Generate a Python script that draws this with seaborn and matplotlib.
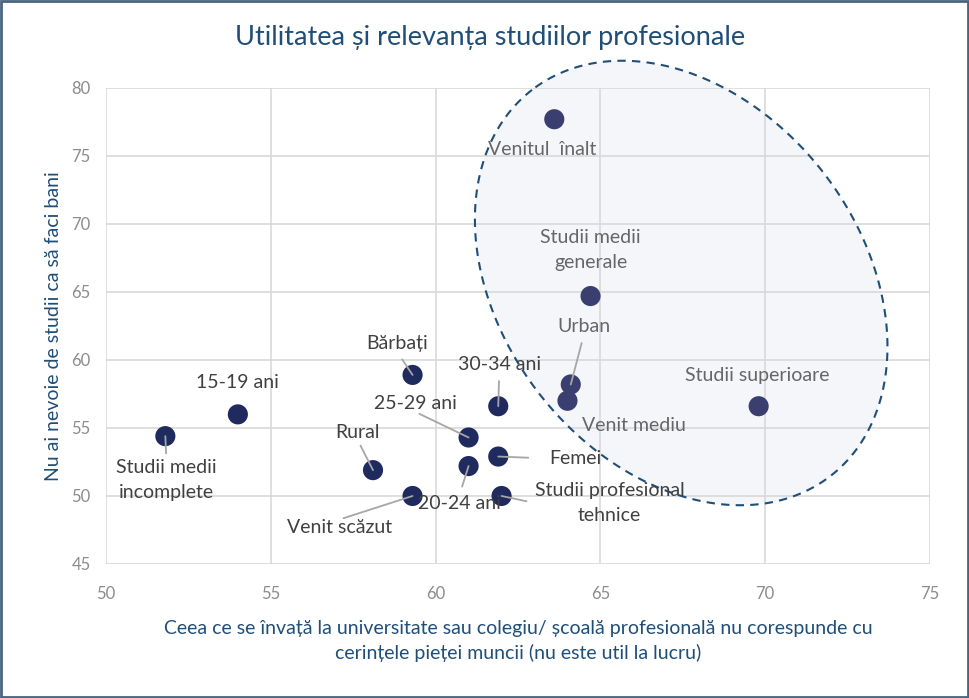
import numpy as np
import pandas as pd
import matplotlib
matplotlib.use("Agg")
import matplotlib.pyplot as plt
import seaborn as sns
from matplotlib.patches import Polygon, Rectangle

# data
labels = ["Studii medii\nincomplete", "15-19 ani", "Bărbați", "Rural", "Venit scăzut",
          "25-29 ani", "20-24 ani", "30-34 ani", "Femei", "Studii profesional\ntehnice",
          "Urban", "Venit mediu", "Studii medii\ngenerale", "Venitul  înalt", "Studii superioare"]
x_vals = [51.8, 54.0, 59.3, 58.1, 59.3, 61.0, 61.0, 61.9, 61.9, 62.0, 64.1, 64.0, 64.7, 63.6, 69.8]
y_vals = [54.4, 56.0, 58.9, 51.9, 50.0, 54.3, 52.2, 56.6, 52.9, 50.0, 58.2, 57.0, 64.7, 77.7, 56.6]
group = ["out"] * 10 + ["in"] * 5

# label offsets in pixels (text centre relative to point)
offsets = [(1, -44), (0, 32), (-15, 31), (-15, 38), (-73, -32),
           (-53, 34), (-9, -37), (1, 42), (77, -2), (108, -7),
           (13, 58), (66, -25), (0, 46), (-12, -30), (-1, 31)]
# leader lines: (start position on the text box, gap in points) or None
leader = [((0.5, 1), 4), None, ((0.5, 0), 6), ((0.5, 0), 4), ((0.5, 1), 3),
          ((0.5, 0), 3), ((0.5, 1), 6), ((0.5, 0), 6), ((0, 0.5), 15), ((0, 0.5), 6),
          ((0.5, 0), 6), None, None, None, None]

df = pd.DataFrame({"x": x_vals, "y": y_vals, "label": labels, "group": group})

sns.set_style("white")
plt.rcParams["font.family"] = ["Lato", "DejaVu Sans"]

fig = plt.figure(figsize=(9.69, 6.98), dpi=100)
ax = fig.add_axes([0.1094, 0.192, 0.8504, 0.682])

ax.set_xlim(50, 75)
ax.set_ylim(45, 80)

# highlight ellipse (defined in pixel space, converted to data units)
px_x = 824 / 25
px_y = 476 / 35
cx, cy = 67.45, 65.66
a, b = 244, 180
theta = np.deg2rad(127.7)
t = np.linspace(0, 2 * np.pi, 300)
dx = a * np.cos(t) * np.cos(theta) - b * np.sin(t) * np.sin(theta)
dy = a * np.cos(t) * np.sin(theta) + b * np.sin(t) * np.cos(theta)
pts = np.column_stack([cx + dx / px_x, cy + dy / px_y])
ax.add_patch(Polygon(pts, closed=True, facecolor="#f4f6fa", edgecolor="none", zorder=0.5, clip_on=False))
ax.add_patch(Polygon(pts, closed=True, facecolor="none", edgecolor="#1f4e79", lw=1.5,
                     linestyle=(0, (4, 3)), zorder=4, clip_on=False))

sns.scatterplot(data=df, x="x", y="y", hue="group", palette={"out": "#1f2a5e", "in": "#3b3f70"},
                s=210, edgecolor="none", legend=False, zorder=3, ax=ax)

for i, row in df.iterrows():
    col = "#404040" if row["group"] == "out" else "#666666"
    arrow = None
    if leader[i] is not None:
        arrow = dict(arrowstyle="-", color="#a6a6a6", lw=1.3, relpos=leader[i][0],
                     shrinkA=leader[i][1], shrinkB=0, patchA=None)
    ax.annotate(row["label"], (row["x"], row["y"]), xytext=offsets[i], textcoords="offset pixels",
                ha="center", va="center", fontsize=14, color=col, linespacing=1.6,
                arrowprops=arrow, zorder=5)

ax.set_xticks([50, 55, 60, 65, 70, 75])
ax.set_yticks([45, 50, 55, 60, 65, 70, 75, 80])
ax.grid(True, color="#d9d9d9", lw=1.2)
ax.set_axisbelow(True)
for s in ax.spines.values():
    s.set_visible(False)
ax.tick_params(axis="both", colors="#8c8c8c", labelsize=12, length=0)
ax.tick_params(axis="x", pad=16)
ax.tick_params(axis="y", pad=11)

ax.set_xlabel("Ceea ce se învață la universitate sau colegiu/ școală profesională nu corespunde cu\n"
              "cerințele pieței muncii (nu este util la lucru)", fontsize=14, color="#1f4e79",
              labelpad=13, linespacing=1.45)
ax.set_ylabel("Nu ai nevoie de studii ca să faci bani", fontsize=14, color="#1f4e79", labelpad=7)

fig.text(0.506, 0.946, "Utilitatea și relevanța studiilor profesionale", ha="center", va="center",
         fontsize=19.5, color="#1f4e79")

fig.patches.append(Rectangle((0.001, 0.001), 0.998, 0.997, transform=fig.transFigure,
                             fill=False, edgecolor="#4a6480", lw=2))

plt.savefig("out.png", dpi=100)
